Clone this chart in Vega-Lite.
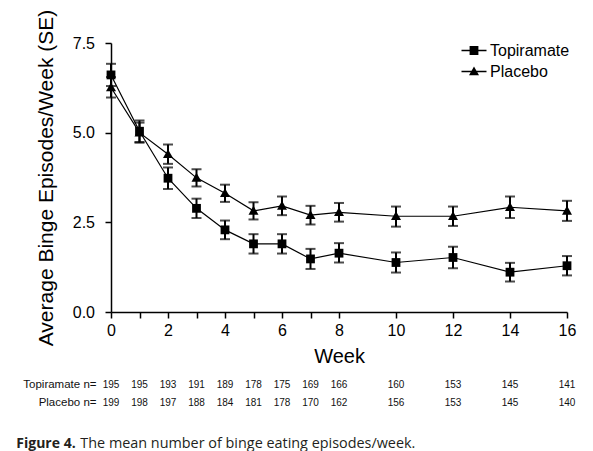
{
  "$schema": "https://vega.github.io/schema/vega-lite/v6.json",
  "padding": {"left": 16, "top": 9, "right": 5, "bottom": 2},
  "background": "white",
  "config": {
    "view": {"stroke": null},
    "font": "Liberation Sans",
    "axis": {"domainColor": "black", "tickColor": "black", "labelColor": "black", "titleColor": "black", "grid": false}
  },
  "title": {
    "text": "The mean number of binge eating episodes/week.",
    "orient": "bottom", "anchor": "start", "frame": "bounds",
    "font": "Open Sans", "fontSize": 14.4, "fontWeight": "normal", "color": "#231f20",
    "dx": 64, "offset": -14
  },
  "datasets": {
    "series": [
      {"week": 0, "group": "Topiramate", "mean": 6.61, "lo": 6.30, "hi": 6.92},
      {"week": 1, "group": "Topiramate", "mean": 5.04, "lo": 4.74, "hi": 5.34},
      {"week": 2, "group": "Topiramate", "mean": 3.73, "lo": 3.43, "hi": 4.03},
      {"week": 3, "group": "Topiramate", "mean": 2.89, "lo": 2.62, "hi": 3.16},
      {"week": 4, "group": "Topiramate", "mean": 2.29, "lo": 2.03, "hi": 2.55},
      {"week": 5, "group": "Topiramate", "mean": 1.90, "lo": 1.63, "hi": 2.17},
      {"week": 6, "group": "Topiramate", "mean": 1.90, "lo": 1.63, "hi": 2.17},
      {"week": 7, "group": "Topiramate", "mean": 1.48, "lo": 1.20, "hi": 1.76},
      {"week": 8, "group": "Topiramate", "mean": 1.64, "lo": 1.38, "hi": 1.92},
      {"week": 10, "group": "Topiramate", "mean": 1.38, "lo": 1.10, "hi": 1.66},
      {"week": 12, "group": "Topiramate", "mean": 1.52, "lo": 1.22, "hi": 1.82},
      {"week": 14, "group": "Topiramate", "mean": 1.11, "lo": 0.85, "hi": 1.37},
      {"week": 16, "group": "Topiramate", "mean": 1.29, "lo": 1.02, "hi": 1.56},
      {"week": 0, "group": "Placebo", "mean": 6.26, "lo": 5.98, "hi": 6.55},
      {"week": 1, "group": "Placebo", "mean": 5.00, "lo": 4.72, "hi": 5.28},
      {"week": 2, "group": "Placebo", "mean": 4.40, "lo": 4.13, "hi": 4.67},
      {"week": 3, "group": "Placebo", "mean": 3.74, "lo": 3.50, "hi": 3.98},
      {"week": 4, "group": "Placebo", "mean": 3.31, "lo": 3.07, "hi": 3.55},
      {"week": 5, "group": "Placebo", "mean": 2.82, "lo": 2.58, "hi": 3.06},
      {"week": 6, "group": "Placebo", "mean": 2.96, "lo": 2.70, "hi": 3.22},
      {"week": 7, "group": "Placebo", "mean": 2.70, "lo": 2.44, "hi": 2.96},
      {"week": 8, "group": "Placebo", "mean": 2.78, "lo": 2.52, "hi": 3.04},
      {"week": 10, "group": "Placebo", "mean": 2.67, "lo": 2.38, "hi": 2.94},
      {"week": 12, "group": "Placebo", "mean": 2.67, "lo": 2.40, "hi": 2.94},
      {"week": 14, "group": "Placebo", "mean": 2.92, "lo": 2.62, "hi": 3.22},
      {"week": 16, "group": "Placebo", "mean": 2.82, "lo": 2.54, "hi": 3.10}
    ],
    "counts": [
      {"week": 0, "group": "Topiramate", "n": 195},
      {"week": 1, "group": "Topiramate", "n": 195},
      {"week": 2, "group": "Topiramate", "n": 193},
      {"week": 3, "group": "Topiramate", "n": 191},
      {"week": 4, "group": "Topiramate", "n": 189},
      {"week": 5, "group": "Topiramate", "n": 178},
      {"week": 6, "group": "Topiramate", "n": 175},
      {"week": 7, "group": "Topiramate", "n": 169},
      {"week": 8, "group": "Topiramate", "n": 166},
      {"week": 10, "group": "Topiramate", "n": 160},
      {"week": 12, "group": "Topiramate", "n": 153},
      {"week": 14, "group": "Topiramate", "n": 145},
      {"week": 16, "group": "Topiramate", "n": 141},
      {"week": 0, "group": "Placebo", "n": 199},
      {"week": 1, "group": "Placebo", "n": 198},
      {"week": 2, "group": "Placebo", "n": 197},
      {"week": 3, "group": "Placebo", "n": 188},
      {"week": 4, "group": "Placebo", "n": 184},
      {"week": 5, "group": "Placebo", "n": 181},
      {"week": 6, "group": "Placebo", "n": 178},
      {"week": 7, "group": "Placebo", "n": 170},
      {"week": 8, "group": "Placebo", "n": 162},
      {"week": 10, "group": "Placebo", "n": 156},
      {"week": 12, "group": "Placebo", "n": 153},
      {"week": 14, "group": "Placebo", "n": 145},
      {"week": 16, "group": "Placebo", "n": 140}
    ]
  },
  "spacing": 9.5,
  "vconcat": [
    {
      "width": 456,
      "height": 269,
      "data": {"name": "series"},
      "resolve": {"scale": {"shape": "independent"}, "legend": {"shape": "independent"}},
      "encoding": {
        "x": {
          "field": "week", "type": "quantitative",
          "scale": {"domain": [0, 16], "nice": false, "zero": false},
          "axis": {
            "title": "Week", "titleFontSize": 20, "titleFontWeight": "normal", "titlePadding": 8,
            "values": [0, 1, 2, 3, 4, 5, 6, 7, 8, 10, 12, 14, 16],
            "labelExpr": "datum.value % 2 == 0 ? datum.label : ''",
            "labelFontSize": 16, "labelPadding": 4, "tickSize": 6, "tickWidth": 1.5, "domainWidth": 1.5,
            "labelFlush": false, "labelOverlap": false
          }
        }
      },
      "layer": [
        {
          "mark": {"type": "rule", "color": "black", "strokeWidth": 2},
          "encoding": {
            "y": {"field": "lo", "type": "quantitative"},
            "y2": {"field": "hi"}
          }
        },
        {
          "mark": {"type": "tick", "orient": "horizontal", "color": "black", "size": 10, "thickness": 2},
          "encoding": {"y": {"field": "lo", "type": "quantitative"}}
        },
        {
          "mark": {"type": "tick", "orient": "horizontal", "color": "black", "size": 10, "thickness": 2},
          "encoding": {"y": {"field": "hi", "type": "quantitative"}}
        },
        {
          "mark": {"type": "line", "color": "black", "strokeWidth": 1.2},
          "encoding": {
            "y": {"field": "mean", "type": "quantitative"},
            "detail": {"field": "group", "type": "nominal"}
          }
        },
        {
          "mark": {"type": "point", "filled": true, "color": "black", "opacity": 1, "size": 400},
          "encoding": {
            "y": {
              "field": "mean", "type": "quantitative",
              "scale": {"domain": [0, 7.5], "nice": false},
              "axis": {
                "title": "Average Binge Episodes/Week (SE)", "titleFontSize": 21, "titleFontWeight": "normal", "titlePadding": 16,
                "values": [0, 2.5, 5, 7.5], "format": ".1f",
                "labelFontSize": 16, "labelPadding": 10.5, "tickSize": 6, "tickWidth": 1.5, "domainWidth": 1.5
              }
            },
            "shape": {
              "field": "group", "type": "nominal",
              "scale": {
                "domain": ["Topiramate", "Placebo"],
                "range": [
                  "M-0.44,-0.44H0.44V0.44H-0.44Z",
                  "M0,-0.5L0.5,0.38H-0.5Z"
                ]
              },
              "legend": null
            }
          }
        },
        {
          "mark": {"type": "point", "filled": true, "color": "black", "opacity": 0, "size": 400},
          "encoding": {
            "y": {"field": "mean", "type": "quantitative"},
            "shape": {
              "field": "group", "type": "nominal",
              "scale": {
                "domain": ["Topiramate", "Placebo"],
                "range": [
                  "M-1.25,-0.07H1.25V0.07H-1.25Z M-0.44,-0.44H0.44V0.44H-0.44Z",
                  "M-1.25,-0.07H1.25V0.07H-1.25Z M0,-0.5L0.5,0.38H-0.5Z"
                ]
              },
              "legend": {
                "title": null, "orient": "none", "legendX": 353, "legendY": -2.5,
                "labelFontSize": 16, "labelColor": "black", "labelOffset": 6,
                "symbolSize": 400, "rowPadding": 3,
                "symbolFillColor": "black", "symbolOpacity": 1, "symbolStrokeWidth": 0
              }
            }
          }
        }
      ]
    },
    {
      "width": 456,
      "height": 36,
      "data": {"name": "counts"},
      "title": {
        "text": "Figure 4.", "orient": "bottom", "anchor": "start", "frame": "bounds",
        "font": "Open Sans", "fontSize": 14, "fontWeight": "bold", "color": "#231f20", "offset": 25, "dx": -6.5
      },
      "mark": {"type": "text", "fontSize": 10, "color": "#111"},
      "encoding": {
        "x": {"field": "week", "type": "quantitative", "scale": {"domain": [0, 16], "nice": false, "zero": false}, "axis": null},
        "y": {
          "field": "group", "type": "nominal", "sort": ["Topiramate", "Placebo"],
          "axis": {"title": null, "domain": false, "ticks": false, "labelPadding": 15, "labelFontSize": 11.5, "labelColor": "#111", "labelExpr": "datum.value + ' n='"}
        },
        "text": {"field": "n", "type": "quantitative"}
      }
    }
  ]
}
